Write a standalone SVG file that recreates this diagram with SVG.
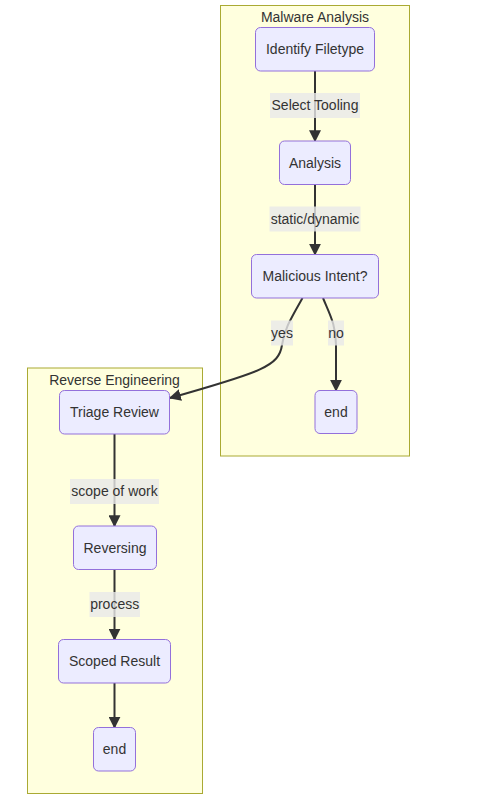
<svg xmlns="http://www.w3.org/2000/svg" width="490" height="805" viewBox="0 0 490 805">
<style>
.cluster rect{fill:#ffffde;stroke:#aaaa33;stroke-width:1}
.node rect{fill:#ececff;stroke:#9370db;stroke-width:1}
text{font-family:"Liberation Sans",Arial,sans-serif;font-size:14px;fill:#333;text-anchor:middle}
.edge{fill:none;stroke:#333;stroke-width:2}
.lbl rect{fill:#e8e8e8;fill-opacity:0.8;stroke:none}
</style>
<defs>
<marker id="arr" viewBox="0 0 10 10" refX="9" refY="5" markerUnits="userSpaceOnUse" markerWidth="12" markerHeight="12" orient="auto">
<path d="M0,0 L10,5 L0,10 z" fill="#333"/>
</marker>
</defs>
<g id="cluster-malware" class="cluster">
<rect x="220.5" y="5.5" width="189" height="450.5"/>
<text x="315" y="22">Malware Analysis</text>
</g>
<g id="cluster-reverse" class="cluster">
<rect x="27.5" y="368" width="175" height="425.5"/>
<text x="114.5" y="385">Reverse Engineering</text>
</g>
<g id="edges">
<path class="edge" d="M315,71 L315,141" marker-end="url(#arr)"/>
<path class="edge" d="M315,184.5 L315,254.5" marker-end="url(#arr)"/>
<path class="edge" d="M323,298 C330,315 336,325 336,345 L336,390.5" marker-end="url(#arr)"/>
<path class="edge" d="M302.5,298 C290,320 284,330 282,345 C279,366 262,372 170,398" marker-end="url(#arr)"/>
<path class="edge" d="M114.5,434 L114.5,526" marker-end="url(#arr)"/>
<path class="edge" d="M114.5,569.5 L114.5,639.5" marker-end="url(#arr)"/>
<path class="edge" d="M114.5,683 L114.5,727.5" marker-end="url(#arr)"/>
</g>
<g id="edge-labels">
<g class="lbl"><rect x="270" y="93" width="90" height="25"/><text x="315" y="110">Select Tooling</text></g>
<g class="lbl"><rect x="269.5" y="206.5" width="91" height="25"/><text x="315" y="224">static/dynamic</text></g>
<g class="lbl"><rect x="271" y="320.5" width="22" height="25"/><text x="282" y="338">yes</text></g>
<g class="lbl"><rect x="328" y="320.5" width="16" height="25"/><text x="336" y="338">no</text></g>
<g class="lbl"><rect x="70" y="479" width="89" height="25"/><text x="114.5" y="496">scope of work</text></g>
<g class="lbl"><rect x="89.5" y="592" width="50.5" height="25"/><text x="114.7" y="609">process</text></g>
</g>
<g id="node-identify" class="node">
<rect x="255.5" y="27.5" width="119" height="43.5" rx="5"/>
<text x="315" y="54">Identify Filetype</text>
</g>
<g id="node-analysis" class="node">
<rect x="279.5" y="141" width="71" height="43.5" rx="5"/>
<text x="315" y="167.5">Analysis</text>
</g>
<g id="node-malicious" class="node">
<rect x="251.5" y="254.5" width="127" height="43.5" rx="5"/>
<text x="315" y="281">Malicious Intent?</text>
</g>
<g id="node-end1" class="node">
<rect x="315" y="390.5" width="42" height="43" rx="5"/>
<text x="336" y="417">end</text>
</g>
<g id="node-triage" class="node">
<rect x="59.5" y="390.5" width="110" height="43.5" rx="5"/>
<text x="114.5" y="417">Triage Review</text>
</g>
<g id="node-reversing" class="node">
<rect x="73.5" y="526" width="83" height="43.5" rx="5"/>
<text x="115" y="552.5">Reversing</text>
</g>
<g id="node-scoped" class="node">
<rect x="58.5" y="639.5" width="112" height="43.5" rx="5"/>
<text x="114.5" y="666">Scoped Result</text>
</g>
<g id="node-end2" class="node">
<rect x="93.5" y="727.5" width="42" height="43.5" rx="5"/>
<text x="114.5" y="754">end</text>
</g>
</svg>
